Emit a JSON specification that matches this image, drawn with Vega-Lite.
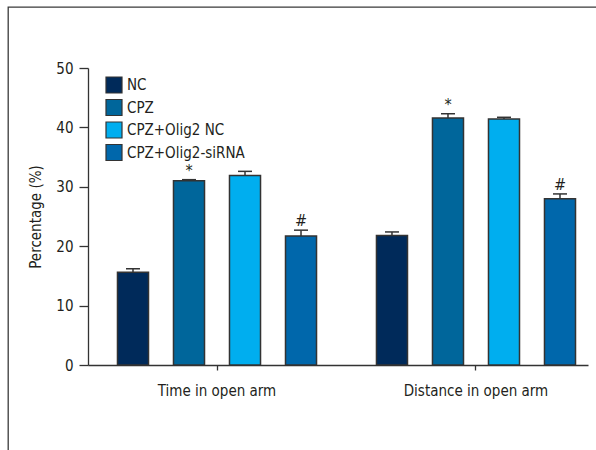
{
  "$schema": "https://vega.github.io/schema/vega-lite/v6.json",
  "autosize": "none",
  "padding": {"left": 8, "top": 7, "right": 0, "bottom": 0},
  "width": 600,
  "height": 460,
  "background": "white",
  "config": {
    "view": {"stroke": "#3a3a3a", "strokeWidth": 1.3},
    "font": "DejaVu Sans Condensed, Roboto, sans-serif",
    "axis": {"grid": false, "domainColor": "#333", "tickColor": "#333", "labelColor": "#231f20", "titleColor": "#231f20", "labelFont": "DejaVu Sans Condensed, Roboto, sans-serif", "titleFont": "DejaVu Sans Condensed, Roboto, sans-serif", "domainWidth": 1.3, "tickWidth": 1.3},
    "legend": {"labelFont": "DejaVu Sans Condensed, Roboto, sans-serif"}
  },
  "data": {"values": [
    {"group": "Time in open arm", "treatment": "NC", "value": 15.6, "err": 16.2, "mark": ""},
    {"group": "Time in open arm", "treatment": "CPZ", "value": 31.0, "err": 31.2, "mark": "*"},
    {"group": "Time in open arm", "treatment": "CPZ+Olig2 NC", "value": 31.9, "err": 32.6, "mark": ""},
    {"group": "Time in open arm", "treatment": "CPZ+Olig2-siRNA", "value": 21.7, "err": 22.7, "mark": "#"},
    {"group": "Distance in open arm", "treatment": "NC", "value": 21.8, "err": 22.4, "mark": ""},
    {"group": "Distance in open arm", "treatment": "CPZ", "value": 41.6, "err": 42.3, "mark": "*"},
    {"group": "Distance in open arm", "treatment": "CPZ+Olig2 NC", "value": 41.4, "err": 41.7, "mark": ""},
    {"group": "Distance in open arm", "treatment": "CPZ+Olig2-siRNA", "value": 28.0, "err": 28.8, "mark": "#"}
  ]},
  "encoding": {
    "x": {
      "field": "group", "type": "nominal",
      "sort": ["Time in open arm", "Distance in open arm"],
      "scale": {"range": [80, 580], "paddingInner": 0.135, "paddingOuter": 0.0328, "align": 1},
      "axis": {"title": null, "labelAngle": 0, "offset": -102, "tickSize": 5, "labelPadding": 13, "labelFontSize": 15}
    },
    "xOffset": {
      "field": "treatment", "type": "nominal",
      "sort": ["NC", "CPZ", "CPZ+Olig2 NC", "CPZ+Olig2-siRNA"],
      "scale": {"paddingInner": 0.446, "paddingOuter": 0.223}
    }
  },
  "layer": [
    {
      "mark": {"type": "bar", "stroke": "#333", "strokeWidth": 1.5},
      "encoding": {
        "y": {
          "field": "value", "type": "quantitative",
          "scale": {"domain": [0, 50], "range": [358, 61], "nice": false},
          "axis": {"title": "Percentage (%)", "values": [0, 10, 20, 30, 40, 50], "offset": -80, "tickSize": 9, "labelPadding": 6, "labelFontSize": 15, "titleFontSize": 15, "titleFontWeight": "normal", "titlePadding": 12}
        },
        "color": {
          "field": "treatment", "type": "nominal",
          "sort": ["NC", "CPZ", "CPZ+Olig2 NC", "CPZ+Olig2-siRNA"],
          "scale": {"domain": ["NC", "CPZ", "CPZ+Olig2 NC", "CPZ+Olig2-siRNA"], "range": ["#002a5a", "#00669b", "#00aeef", "#0067ab"]},
          "legend": {"title": null, "orient": "none", "legendX": 97, "legendY": 69, "symbolType": "square", "symbolSize": 256, "symbolStrokeColor": "#333", "symbolStrokeWidth": 1.2, "symbolOpacity": 1, "labelFontSize": 15, "labelColor": "#231f20", "rowPadding": 0.5, "labelOffset": 4}
        }
      }
    },
    {
      "mark": {"type": "rule", "color": "#333", "strokeWidth": 1.5},
      "encoding": {"y": {"field": "value", "type": "quantitative"}, "y2": {"field": "err"}}
    },
    {
      "mark": {"type": "tick", "color": "#333", "size": 14, "thickness": 1.5, "opacity": 1},
      "encoding": {"y": {"field": "err", "type": "quantitative"}}
    },
    {
      "mark": {"type": "text", "baseline": "bottom", "dy": -1, "fontSize": 16, "color": "#231f20"},
      "encoding": {"y": {"field": "err", "type": "quantitative"}, "text": {"field": "mark"}}
    }
  ]
}
